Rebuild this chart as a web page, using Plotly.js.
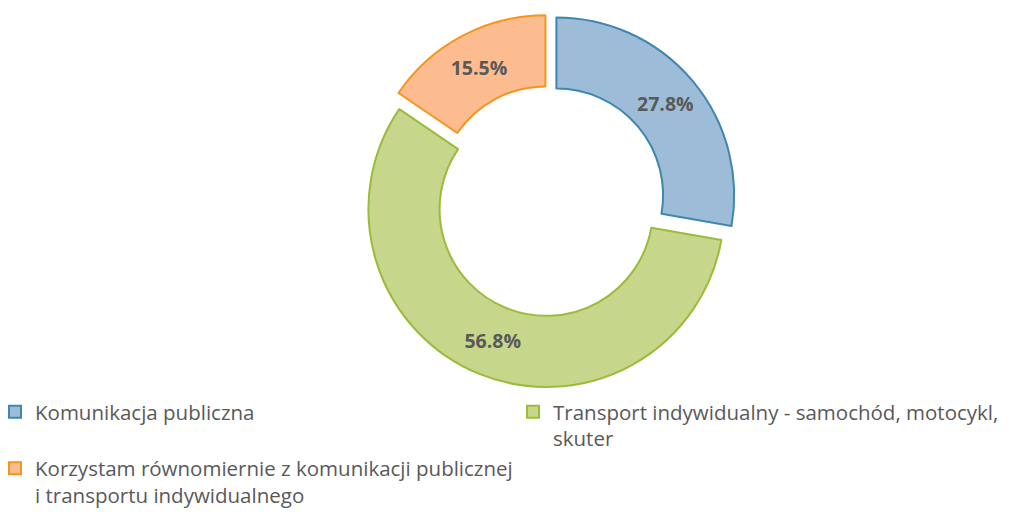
<!DOCTYPE html>
<html>
<head>
<meta charset="utf-8">
<script src="https://cdn.plot.ly/plotly-3.0.1.min.js"></script>
<style>html,body{margin:0;padding:0;background:#fff;}#chart{width:1035px;height:515px;}</style>
</head>
<body>
<div id="chart"></div>
<script>
const labels = [
  "Komunikacja publiczna",
  "Transport indywidualny - samochód, motocykl,<br>skuter",
  "Korzystam równomiernie z komunikacji publicznej<br>i transportu indywidualnego"
];
const values = [27.8, 56.8, 15.5];
const fillColors = ["#9dbcd8", "#c6d68a", "#fcbc90"];
const lineColors = ["#3f86b2", "#9bbb3b", "#f7941d"];

const trace = {
  type: "pie",
  labels: labels,
  values: values,
  sort: false,
  direction: "clockwise",
  rotation: 0,
  hole: 0.6,
  pull: [0.05, 0.05, 0.05],
  marker: {colors: fillColors, line: {color: lineColors, width: 2}},
  texttemplate: "<b>%{value:.1f}%</b>",
  textposition: "inside",
  insidetextorientation: "horizontal",
  textfont: {family: "'Open Sans', sans-serif", size: 19.5, color: "#595959"},
  domain: {x: [0.298, 0.764], y: [0.2473, 0.9723]},
  hoverinfo: "label+value"
};

const layout = {
  width: 1035, height: 515,
  margin: {l: 0, r: 0, t: 0, b: 0},
  paper_bgcolor: "#fff",
  showlegend: true,
  legend: {
    orientation: "h",
    x: 0, y: 0, xanchor: "left", yanchor: "bottom",
    entrywidth: 478, entrywidthmode: "pixels",
    indentation: -5,
    valign: "top",
    traceorder: "normal",
    font: {family: "'Open Sans', sans-serif", size: 20.5, color: "#595959"},
    itemwidth: 30
  }
};

Plotly.newPlot("chart", [trace], layout, {displayModeBar: false, staticPlot: true});
</script>
</body>
</html>
